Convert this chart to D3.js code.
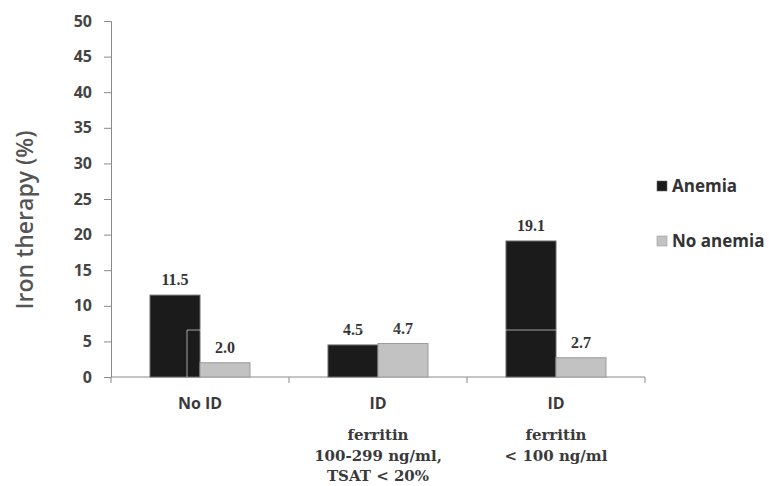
<!DOCTYPE html>
<html>
<head>
<meta charset="utf-8">
<script src="https://cdn.jsdelivr.net/npm/d3@7"></script>
<style>
  html, body { margin: 0; padding: 0; background: #fff; }
  svg { display: block; }
</style>
</head>
<body>
<svg id="chart" width="769" height="486"></svg>
<script>
// Iron therapy by iron-deficiency group and anemia status
const categories = ["No ID", "ID 100-299", "ID <100"];
const categoryLines = [
  ["No ID"],
  ["ID", "ferritin", "100-299 ng/ml,", "TSAT < 20%"],
  ["ID", "ferritin", "< 100 ng/ml"]
];
const seriesNames = ["Anemia", "No anemia"];
const anemia = [11.5, 4.5, 19.1];
const noAnemia = [2.0, 4.7, 2.7];
const yTicks = [0, 5, 10, 15, 20, 25, 30, 35, 40, 45, 50];

const colors = { "Anemia": "#1b1b1b", "No anemia": "#c2c2c2" };
const strokes = { "Anemia": "#6a6a6a", "No anemia": "#9a9a9a" };

const sansFont = "'Open Sans', sans-serif";
const serifFont = "'DejaVu Serif', serif";

const svg = d3.select("#chart");
const plotLeft = 111, plotRight = 645, plotTop = 21, plotBottom = 377;

const y = d3.scaleLinear().domain([0, 50]).range([plotBottom, plotTop]);
const x0 = d3.scaleBand().domain(categories).range([plotLeft, plotRight]).padding(0);
const x1 = d3.scaleBand().domain(seriesNames).range([0, x0.bandwidth()])
  .paddingInner(0).paddingOuter(0.78);

const rows = categories.map((c, i) => ({
  cat: c,
  values: [
    { key: "Anemia", value: anemia[i] },
    { key: "No anemia", value: noAnemia[i] }
  ]
}));

// Y axis
const yAxis = svg.append("g")
  .attr("transform", `translate(${plotLeft},0)`)
  .call(d3.axisLeft(y).tickValues(yTicks).tickSize(7).tickPadding(12));
yAxis.select(".domain").attr("stroke", "#8a8a8a");
yAxis.selectAll(".tick line").attr("stroke", "#8a8a8a");
yAxis.selectAll(".tick text")
  .attr("fill", "#444")
  .style("font-family", sansFont)
  .style("font-weight", "bold")
  .style("font-size", "16px");

// Y axis title
svg.append("text")
  .attr("transform", `translate(33,${(plotTop + plotBottom) / 2 + 21}) rotate(-90)`)
  .attr("text-anchor", "middle")
  .attr("fill", "#555")
  .style("font-family", sansFont)
  .style("font-weight", "600")
  .style("font-size", "23px")
  .text("Iron therapy (%)");

// X axis with boundary ticks
const xAxisG = svg.append("g").attr("transform", `translate(0,${plotBottom})`);
xAxisG.append("line")
  .attr("x1", plotLeft).attr("x2", plotRight)
  .attr("stroke", "#8a8a8a");
const bounds = categories.map(c => x0(c)).concat([x0(categories[categories.length - 1]) + x0.bandwidth()]);
xAxisG.selectAll("line.bt").data(bounds).join("line")
  .attr("class", "bt")
  .attr("x1", d => d).attr("x2", d => d)
  .attr("y1", 0).attr("y2", 6)
  .attr("stroke", "#8a8a8a");

// Bars
const groups = svg.append("g").selectAll("g").data(rows).join("g")
  .attr("transform", d => `translate(${x0(d.cat)},0)`);

groups.selectAll("rect").data(d => d.values).join("rect")
  .attr("x", d => x1(d.key))
  .attr("y", d => y(d.value))
  .attr("width", x1.bandwidth())
  .attr("height", d => y(0) - y(d.value))
  .attr("fill", d => colors[d.key])
  .attr("stroke", d => strokes[d.key])
  .attr("stroke-width", 1);

// Faint white frame line crossing the dark bars
const frameLevel = 6.6;
const fx0 = x0(categories[0]) + x1("Anemia") + x1.bandwidth() * 0.74;
const fx1 = x0(categories[2]) + x1("Anemia") + x1.bandwidth();
svg.append("path")
  .attr("d", `M${fx0},${y(0)}V${y(frameLevel)}H${fx1}`)
  .attr("fill", "none")
  .attr("stroke", "#fff")
  .attr("stroke-opacity", 0.6)
  .attr("stroke-width", 1);

// Value labels
groups.selectAll("text.val").data(d => d.values).join("text")
  .attr("class", "val")
  .attr("x", d => x1(d.key) + x1.bandwidth() / 2)
  .attr("y", d => y(d.value) - 10)
  .attr("text-anchor", "middle")
  .attr("fill", "#333")
  .style("font-family", "'Liberation Serif', serif")
  .style("font-weight", "bold")
  .style("font-size", "16px")
  .text(d => d.value.toFixed(1));

// Category labels
const catG = svg.append("g");
categoryLines.forEach((lines, i) => {
  const cx = x0(categories[i]) + x0.bandwidth() / 2;
  lines.forEach((ln, j) => {
    const t = catG.append("text")
      .attr("x", cx)
      .attr("text-anchor", "middle")
      .attr("fill", "#3a3a3a")
      .text(ln);
    if (j === 0) {
      t.attr("y", 409)
        .style("font-family", sansFont)
        .style("font-weight", "bold")
        .style("font-size", "16px");
    } else {
      t.attr("y", 440 + (j - 1) * 20.5)
        .style("font-family", serifFont)
        .style("font-weight", "bold")
        .style("font-size", "15px");
    }
  });
});

// Legend
const legend = svg.append("g").selectAll("g").data(seriesNames).join("g")
  .attr("transform", (d, i) => `translate(657,${186 + i * 55})`);
legend.append("rect")
  .attr("x", 0).attr("y", -5)
  .attr("width", 10).attr("height", 10)
  .attr("fill", d => colors[d])
  .attr("stroke", d => strokes[d])
  .attr("stroke-width", 0.6);
legend.append("text")
  .attr("x", 15).attr("y", 6)
  .attr("fill", "#333")
  .style("font-family", sansFont)
  .style("font-weight", "bold")
  .style("font-size", "17px")
  .text(d => d);
</script>
</body>
</html>
